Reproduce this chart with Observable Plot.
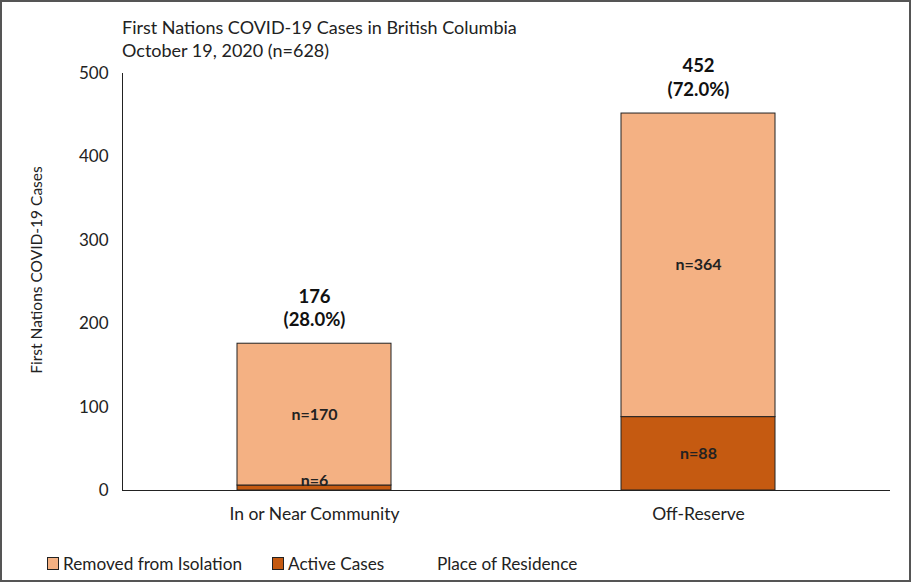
<!DOCTYPE html>
<html>
<head>
<meta charset="utf-8">
<script src="https://cdn.jsdelivr.net/npm/d3@7"></script>
<script src="https://cdn.jsdelivr.net/npm/@observablehq/plot@0.6"></script>
<style>
  html, body { margin: 0; padding: 0; background: #fff; }
  #wrap { position: relative; width: 911px; height: 582px; font-family: Lato, "Open Sans", sans-serif; color: #222; overflow: hidden; }
  #border { position: absolute; left: 0; top: 0; width: 911px; height: 582px; box-sizing: border-box; border: 2px solid #555; pointer-events: none; }
  .title { position: absolute; left: 122px; font-size: 18px; color: #222; white-space: nowrap; }
  .leg { position: absolute; top: 553px; font-size: 17.2px; color: #222; white-space: nowrap; display: flex; align-items: center; }
  .sw { display: inline-block; width: 10px; height: 11px; border: 1px solid #222; margin-right: 4px; }
  #chart { position: absolute; left: 0; top: 0; }
</style>
</head>
<body>
<div id="wrap">
  <div id="chart"></div>
  <div class="title" style="top:16px">First Nations COVID-19 Cases in British Columbia</div>
  <div class="title" style="top:39px">October 19, 2020 (n=628)</div>
  <div class="leg" style="left:47px"><span class="sw" style="background:#F4B183"></span>Removed from Isolation</div>
  <div class="leg" style="left:272px"><span class="sw" style="background:#C55A11"></span>Active Cases</div>
  <div class="leg" style="left:437px">Place of Residence</div>
  <div id="border"></div>
</div>
<script>
const categories = ["In or Near Community", "Off-Reserve"];
const activeCases = [6, 88];
const removedCases = [170, 364];
const totals = [176, 452];
const percents = ["28.0%", "72.0%"];
const seriesNames = ["Active Cases", "Removed from Isolation"];
const seriesColors = ["#C55A11", "#F4B183"];
const yTicks = [0, 100, 200, 300, 400, 500];

const rows = [];
categories.forEach((c, i) => {
  rows.push({cat: c, series: seriesNames[0], value: activeCases[i], mid: activeCases[i] / 2, label: "n=" + activeCases[i]});
  rows.push({cat: c, series: seriesNames[1], value: removedCases[i], mid: activeCases[i] + removedCases[i] / 2, label: "n=" + removedCases[i]});
});
const totalRows = categories.map((c, i) => ({cat: c, total: totals[i], label: totals[i] + "\n(" + percents[i] + ")"}));

const chart = Plot.plot({
  width: 911,
  height: 582,
  marginLeft: 122,
  marginRight: 21,
  marginTop: 73,
  marginBottom: 92,
  style: {fontFamily: "Lato, 'Open Sans', sans-serif", fontSize: "16px", color: "#222", background: "transparent"},
  x: {domain: categories, paddingInner: 0.6, paddingOuter: 0.3, label: null},
  y: {domain: [0, 500], ticks: yTicks, label: null},
  color: {domain: seriesNames, range: seriesColors},
  marks: [
    Plot.barY(rows, Plot.stackY({x: "cat", y: "value", fill: "series", order: seriesNames, stroke: "#222", strokeWidth: 1})),
    Plot.text(rows.filter((d) => d.value >= 20), {x: "cat", y: "mid", text: "label", fontWeight: "bold", fontSize: 16, fill: "#222"}),
    Plot.text(rows.filter((d) => d.value < 20), {x: "cat", y: "mid", text: "label", dy: -7, fontWeight: "bold", fontSize: 16, fill: "#222"}),
    Plot.text(totalRows, {x: "cat", y: "total", text: "label", lineAnchor: "bottom", lineHeight: 1.25, dy: -18, fontWeight: "bold", fontSize: 18.5, fill: "#111"}),
    Plot.axisY({ticks: yTicks, tickSize: 0, tickPadding: 14, fontSize: 17, label: null}),
    Plot.axisX({tickSize: 0, tickPadding: 17, fontSize: 17.5, label: null}),
    Plot.frame({anchor: "left", stroke: "#222"}),
    Plot.ruleY([0], {stroke: "#222"}),
    Plot.text(["First Nations COVID-19 Cases"], {frameAnchor: "left", textAnchor: "middle", rotate: -90, dx: -85, dy: -12, fontSize: 15.5, fill: "#222"})
  ]
});
document.getElementById("chart").appendChild(chart);
</script>
</body>
</html>
